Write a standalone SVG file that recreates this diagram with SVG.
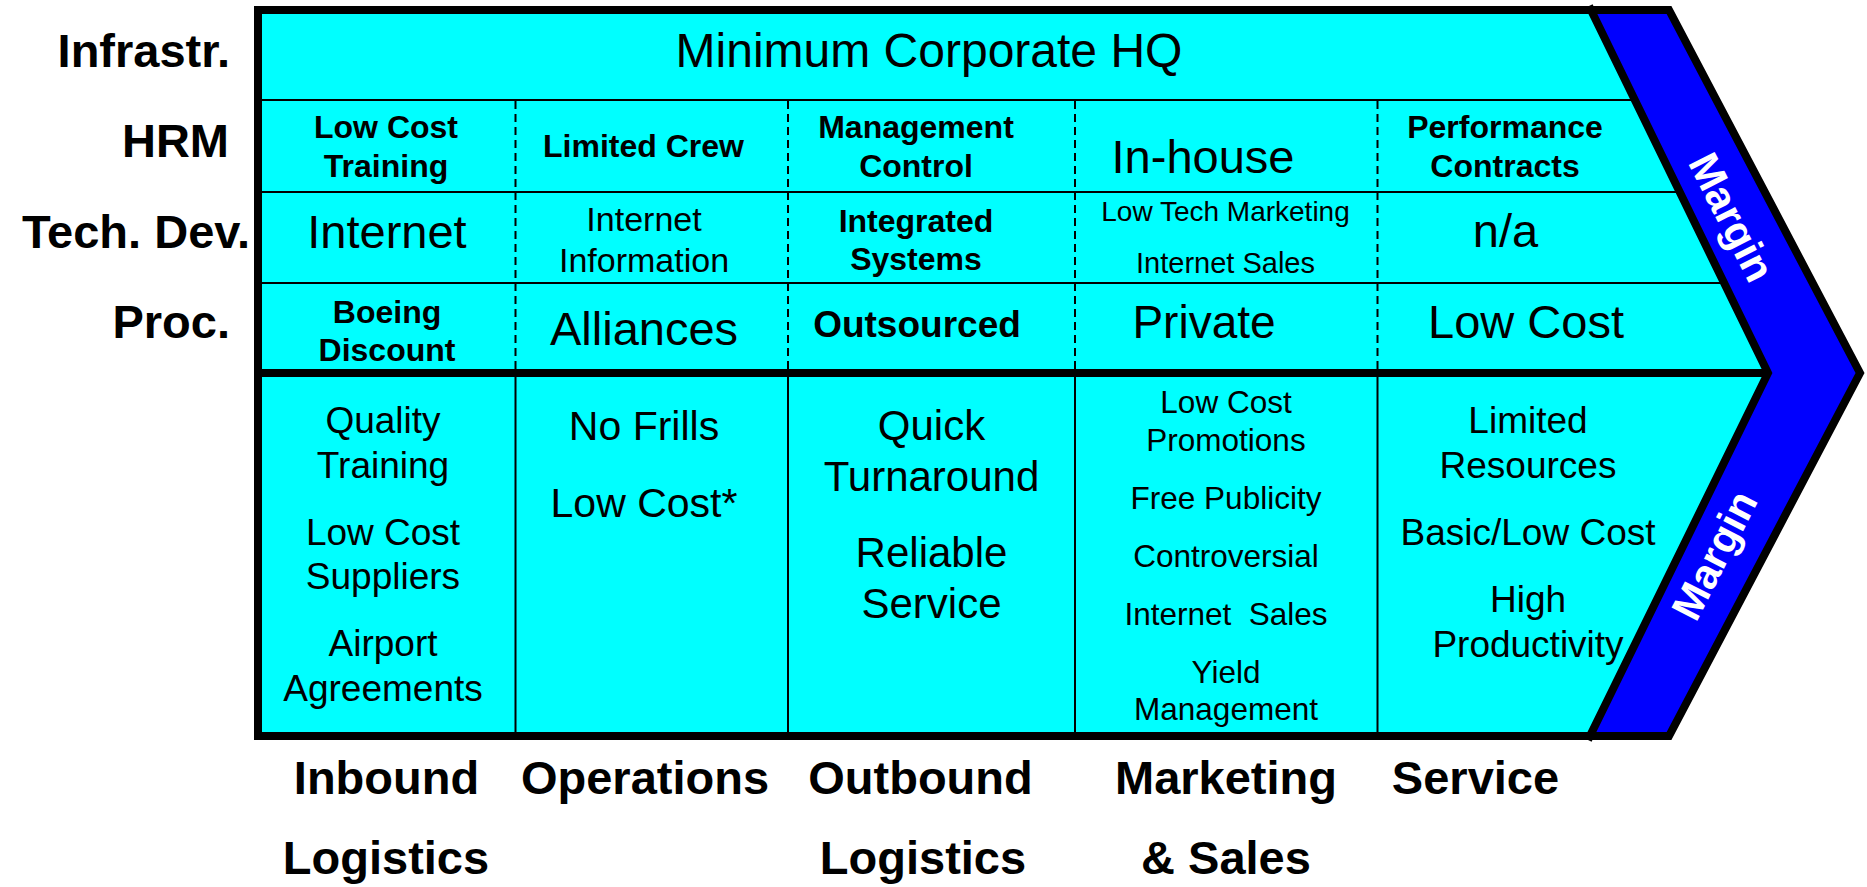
<svg xmlns="http://www.w3.org/2000/svg" width="1867" height="887" viewBox="0 0 1867 887">
  <style>
    text { font-family: "Liberation Sans", Arial, Helvetica, sans-serif; fill: #000; }
    .c { text-anchor: middle; }
    .e { text-anchor: end; }
    .b { font-weight: bold; }
    .lab { font-size: 47px; font-weight: bold; }
    .big { font-size: 47px; }
    .sb { font-size: 32px; font-weight: bold; }
    .margin { font-size: 42px; font-weight: bold; fill: #fff; text-anchor: middle; }
    .thin { stroke: #000; stroke-width: 2; fill: none; }
    .dash { stroke: #000; stroke-width: 2; stroke-dasharray: 8 5; fill: none; }
    .thick { stroke: #000; stroke-width: 8; fill: none; }
  </style>

  <!-- value chain arrow body -->
  <g id="frame">
    <polygon points="258,10 1669,10 1860,373 1669,736 258,736" fill="#0000FF"/>
    <polygon points="258,10 1591,10 1768,373 1590,736 258,736" fill="#00FFFF"/>
  </g>

  <!-- grid lines -->
  <g id="connectors">
    <line class="thin" x1="262" y1="100" x2="1636" y2="100"/>
    <line class="thin" x1="262" y1="192" x2="1680" y2="192"/>
    <line class="thin" x1="262" y1="283" x2="1725" y2="283"/>
    <line class="dash" x1="515.5" y1="101" x2="515.5" y2="369"/>
    <line class="dash" x1="788" y1="101" x2="788" y2="369"/>
    <line class="dash" x1="1075" y1="101" x2="1075" y2="369"/>
    <line class="dash" x1="1377.5" y1="101" x2="1377.5" y2="369"/>
    <line class="thin" x1="515.5" y1="377" x2="515.5" y2="733"/>
    <line class="thin" x1="788" y1="377" x2="788" y2="733"/>
    <line class="thin" x1="1075" y1="377" x2="1075" y2="733"/>
    <line class="thin" x1="1377.5" y1="377" x2="1377.5" y2="733"/>
    <line class="thick" x1="254" y1="373" x2="1766" y2="373"/>
    <polyline class="thick" points="1589,6 1768,373 1588,740" stroke-linejoin="miter"/>
    <polygon class="thick" points="258,10 1669,10 1860,373 1669,736 258,736" stroke-linejoin="miter"/>
  </g>

  <!-- support activity labels -->
  <g id="row-labels">
    <text class="lab e" x="230" y="67">Infrastr.</text>
    <text class="lab e" x="229" y="157">HRM</text>
    <text class="lab e" x="250" y="248">Tech. Dev.</text>
    <text class="lab e" x="230" y="338">Proc.</text>
  </g>

  <g id="infrastructure">
    <text class="c" x="929" y="67" font-size="48">Minimum Corporate HQ</text>
  </g>

  <g id="hrm">
    <text class="sb c" x="386" y="138">Low Cost</text>
    <text class="sb c" x="386" y="177">Training</text>
    <text class="sb c" x="643.5" y="157">Limited Crew</text>
    <text class="sb c" x="916" y="138">Management</text>
    <text class="sb c" x="916" y="177">Control</text>
    <text class="big c" x="1203" y="173">In-house</text>
    <text class="sb c" x="1505" y="138">Performance</text>
    <text class="sb c" x="1505" y="177">Contracts</text>
  </g>

  <g id="tech-dev">
    <text class="big c" x="387" y="248">Internet</text>
    <text class="c" x="644" y="231" font-size="34">Internet</text>
    <text class="c" x="644" y="272" font-size="34">Information</text>
    <text class="sb c" x="916" y="232">Integrated</text>
    <text class="sb c" x="916" y="270">Systems</text>
    <text class="c" x="1225.5" y="221" font-size="28">Low Tech Marketing</text>
    <text class="c" x="1225.5" y="273" font-size="29">Internet Sales</text>
    <text class="big c" x="1505.5" y="247">n/a</text>
  </g>

  <g id="procurement">
    <text class="sb c" x="387" y="323">Boeing</text>
    <text class="sb c" x="387" y="361">Discount</text>
    <text class="big c" x="644" y="345">Alliances</text>
    <text class="c b" x="917" y="337" font-size="37">Outsourced</text>
    <text class="c" x="1204" y="338" font-size="46">Private</text>
    <text class="big c" x="1526" y="338">Low Cost</text>
  </g>

  <g id="inbound-logistics" font-size="37">
    <text class="c" x="383" y="433">Quality</text>
    <text class="c" x="383" y="478">Training</text>
    <text class="c" x="383" y="545">Low Cost</text>
    <text class="c" x="383" y="589">Suppliers</text>
    <text class="c" x="383" y="656">Airport</text>
    <text class="c" x="383" y="701">Agreements</text>
  </g>

  <g id="operations" font-size="41">
    <text class="c" x="644" y="440">No Frills</text>
    <text class="c" x="644" y="517">Low Cost*</text>
  </g>

  <g id="outbound-logistics" font-size="42">
    <text class="c" x="931.5" y="440">Quick</text>
    <text class="c" x="931.5" y="491">Turnaround</text>
    <text class="c" x="931.5" y="567">Reliable</text>
    <text class="c" x="931.5" y="618">Service</text>
  </g>

  <g id="marketing-sales" font-size="31.5">
    <text class="c" x="1226" y="413">Low Cost</text>
    <text class="c" x="1226" y="451">Promotions</text>
    <text class="c" x="1226" y="509">Free Publicity</text>
    <text class="c" x="1226" y="567">Controversial</text>
    <text class="c" x="1226" y="625" xml:space="preserve">Internet  Sales</text>
    <text class="c" x="1226" y="683">Yield</text>
    <text class="c" x="1226" y="720">Management</text>
  </g>

  <g id="service" font-size="37">
    <text class="c" x="1528" y="433">Limited</text>
    <text class="c" x="1528" y="478">Resources</text>
    <text class="c" x="1528" y="545">Basic/Low Cost</text>
    <text class="c" x="1528" y="612">High</text>
    <text class="c" x="1528" y="657">Productivity</text>
  </g>

  <g id="margin">
    <text class="margin" transform="translate(1732,217) rotate(63)" x="0" y="15">Margin</text>
    <text class="margin" transform="translate(1714,555) rotate(-63)" x="0" y="15">Margin</text>
  </g>

  <!-- primary activity labels -->
  <g id="column-labels">
    <text class="lab c" x="386.5" y="794">Inbound</text>
    <text class="lab c" x="386" y="874">Logistics</text>
    <text class="lab c" x="645" y="794">Operations</text>
    <text class="lab c" x="920.5" y="794">Outbound</text>
    <text class="lab c" x="923" y="874">Logistics</text>
    <text class="lab c" x="1226" y="794">Marketing</text>
    <text class="lab c" x="1226" y="874">&amp; Sales</text>
    <text class="lab c" x="1475.5" y="794">Service</text>
  </g>
</svg>
